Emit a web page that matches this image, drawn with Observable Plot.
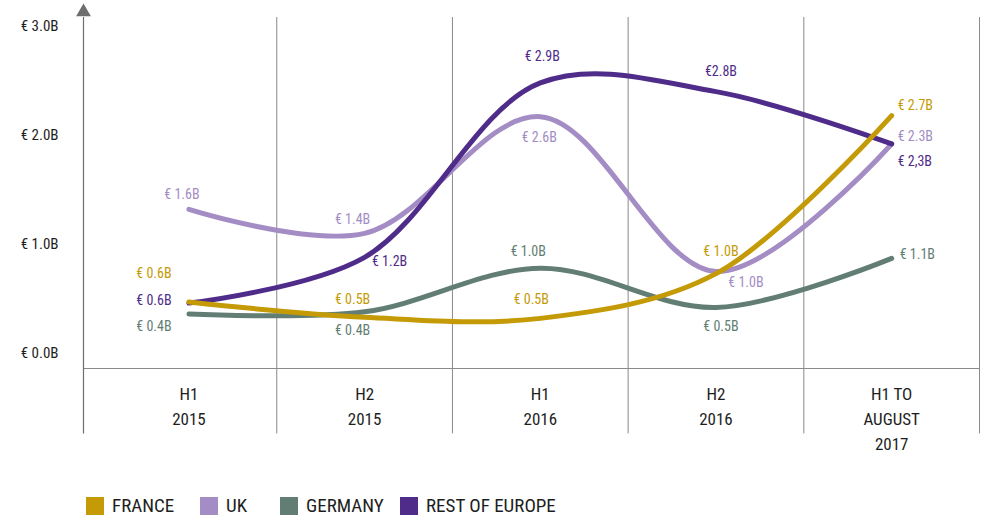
<!DOCTYPE html>
<html>
<head>
<meta charset="utf-8">
<script src="https://cdn.jsdelivr.net/npm/d3@7"></script>
<script src="https://cdn.jsdelivr.net/npm/@observablehq/plot@0.6"></script>
<style>
  html, body { margin: 0; padding: 0; background: #fff; }
  #wrap { position: relative; width: 986px; height: 520px; }
  #legend { position: relative; height: 40px; }
  .item { position: absolute; top: 17px; display: flex; align-items: center; }
  .sw { width: 18px; height: 18px; margin-right: 8px; }
  .lab { font-size: 19px; color: #1e1e1e; line-height: 18px; }
</style>
</head>
<body>
<div id="wrap"><div id="chart"></div><div id="legend"></div></div>
<script>
// Data
const periods = ["H1\n2015", "H2\n2015", "H1\n2016", "H2\n2016", "H1 TO\nAUGUST\n2017"];
const seriesNames = ["FRANCE", "UK", "GERMANY", "REST OF EUROPE"];
const seriesColors = ["#C49A06", "#A38DC4", "#627E74", "#4F2C89"];

const france  = [0.61, 0.47, 0.46, 0.87, 2.32];
const uk      = [1.46, 1.24, 2.31, 0.89, 2.06];
const germany = [0.50, 0.52, 0.92, 0.56, 1.01];
const restOfEurope = [0.60, 1.02, 2.62, 2.54, 2.06];

const franceLabels  = ["€ 0.6B", "€ 0.5B", "€ 0.5B", "€ 1.0B", "€ 2.7B"];
const ukLabels      = ["€ 1.6B", "€ 1.4B", "€ 2.6B", "€ 1.0B", "€ 2.3B"];
const germanyLabels = ["€ 0.4B", "€ 0.4B", "€ 1.0B", "€ 0.5B", "€ 1.1B"];
const roeLabels     = ["€ 0.6B", "€ 1.2B", "€ 2.9B", "€2.8B", "€ 2,3B"];

const yTicks = [0, 1, 2, 3];

// Layout (label offsets in px relative to each point)
const labelDx = [
  [-35, -12, -9, 5, 6],
  [-7, -12, -1, 30, 6],
  [-35, -12, -12, 5, 8],
  [-35, 25, 2, 5, 6]
];
const labelDy = [
  [-28, -18, -19, -22, -10],
  [-15, -14, 21, 11, -7],
  [13, 19, -17, 19, -4],
  [-3, 4, -26, -20, 18]
];

// Pick the narrowest installed font family available
function hasFont(name) {
  const c = document.createElement("canvas").getContext("2d");
  const probe = "mmmmmmmmmmlliWW€ 0.6B AUGUST";
  for (const base of ["monospace", "serif"]) {
    c.font = `32px ${base}`;
    const w0 = c.measureText(probe).width;
    c.font = `32px "${name}", ${base}`;
    if (c.measureText(probe).width !== w0) return true;
  }
  return false;
}
const candidates = ["Liberation Sans Narrow", "Roboto Condensed", "DejaVu Sans Condensed", "Noto Sans Condensed", "Open Sans Condensed", "Arial Narrow", "Roboto", "Liberation Sans"];
const chosen = candidates.find(hasFont) || "sans-serif";
const fontFamily = `"${chosen}", sans-serif`;
document.getElementById("wrap").style.fontFamily = fontFamily;

const values = [france, uk, germany, restOfEurope];
const labels = [franceLabels, ukLabels, germanyLabels, roeLabels];
const rows = seriesNames.flatMap((s, k) => values[k].map((v, i) => ({s, k, i, v, t: labels[k][i]})));

const drawOrder = [2, 1, 3, 0];
const lineMarks = drawOrder.map(k => Plot.line(rows.filter(d => d.k === k), {
  x: "i", y: "v", stroke: "s", strokeWidth: 5, curve: "catmull-rom", strokeLinecap: "round"
}));

const labelMarks = rows.map(d => Plot.text([d], {
  x: "i", y: "v", text: "t",
  dx: labelDx[d.k][d.i], dy: labelDy[d.k][d.i],
  fill: seriesColors[d.k], fontSize: 14,
  textAnchor: d.i === 4 ? "start" : "middle"
}));

const chart = Plot.plot({
  width: 986, height: 480,
  marginLeft: 83, marginRight: 7, marginTop: 41, marginBottom: 112,
  style: {fontFamily, background: "#fff", color: "#1e1e1e"},
  x: {type: "linear", domain: [-0.6, 4.5], axis: null},
  y: {domain: [0, 3], axis: null},
  color: {domain: seriesNames, range: seriesColors},
  marks: [
    Plot.ruleX([0.5, 1.5, 2.5, 3.5, 4.5], {y1: -0.6, y2: 3.22, stroke: "#8a8a8a", strokeWidth: 1}),
    Plot.ruleY([0], {x1: -0.6, x2: 4.5, stroke: "#8a8a8a", strokeWidth: 1.2}),
    Plot.ruleX([-0.6], {y1: -0.6, y2: 3.22, stroke: "#6e6e6e", strokeWidth: 1.2}),
    Plot.dot([-0.6], {x: d => d, y: 3.27, symbol: "triangle", r: 5.5, fill: "#6e6e6e", stroke: null}),
    Plot.axisY({ticks: yTicks, tickSize: 0, tickPadding: 25, dy: -15, fontSize: 15, label: null,
      tickFormat: d => `€ ${d.toFixed(1)}B`}),
    Plot.text(periods, {x: (d, i) => i, y: 0, text: d => d, dy: 14, lineAnchor: "top", lineHeight: 1.47, fontSize: 17, fill: "#1e1e1e"}),
    ...lineMarks,
    ...labelMarks
  ]
});
document.getElementById("chart").append(chart);

const legend = document.getElementById("legend");
const legendLeft = [86, 200, 280, 400];
seriesNames.forEach((s, k) => {
  const it = document.createElement("div");
  it.className = "item";
  it.style.left = legendLeft[k] + "px";
  it.innerHTML = `<div class="sw" style="background:${seriesColors[k]}"></div><span class="lab">${s}</span>`;
  legend.append(it);
});
</script>
</body>
</html>
